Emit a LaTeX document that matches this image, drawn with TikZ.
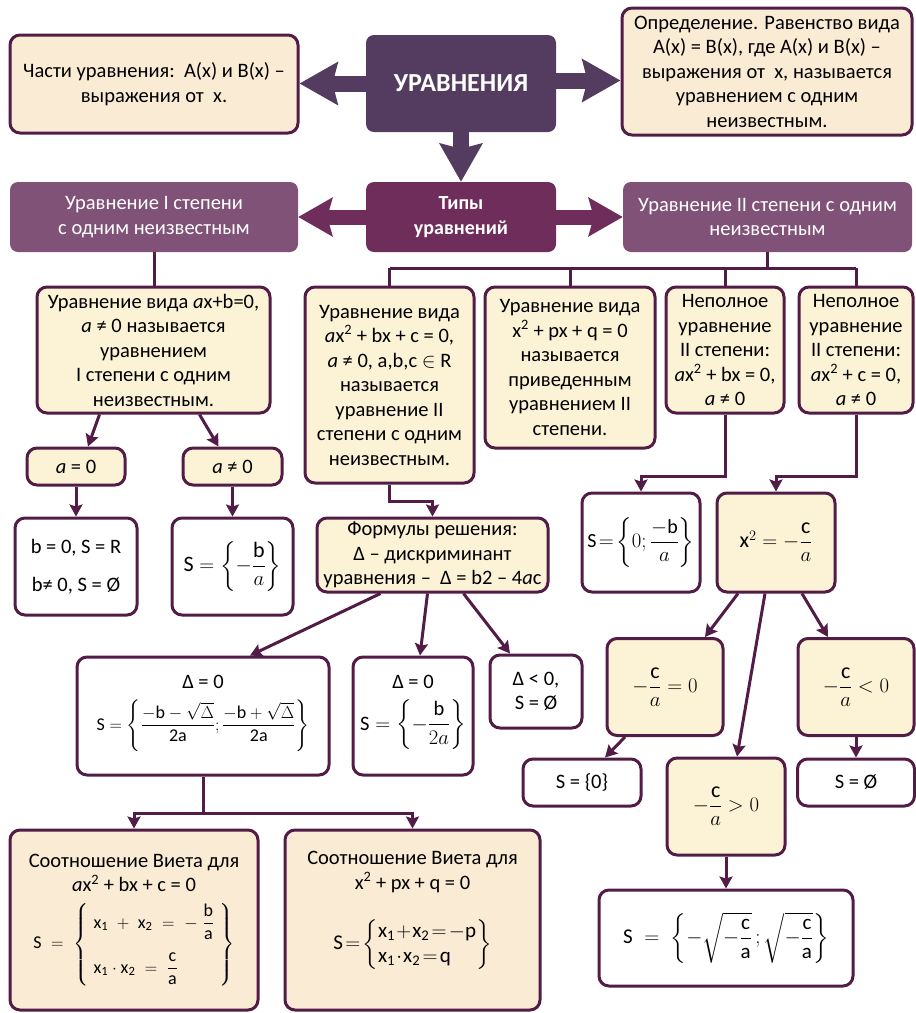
\documentclass[tikz,border=0pt]{standalone}
\usepackage{fontspec}
\usepackage{amsmath}
\setmainfont{Carlito}
\usetikzlibrary{arrows.meta,calc}
\definecolor{bd}{HTML}{521C46}
\definecolor{cream}{HTML}{FCF2D6}
\definecolor{peach}{HTML}{FAEBD5}
\definecolor{ucol}{HTML}{533C60}
\definecolor{tcol}{HTML}{6E2D5B}
\definecolor{scol}{HTML}{805277}
\newcommand\fs{\fontsize{20.5}{24.5}\selectfont}
\newcommand\fm{\fontsize{22}{26}\selectfont}
\newcommand\tx[1]{\text{#1}}
\tikzset{
  box/.style={draw=bd, line width=3pt, rounded corners=10pt, align=center, inner sep=1pt, font=\fs},
  cbox/.style={box, fill=cream},
  wbox/.style={box, fill=white},
  pbox/.style={box, fill=peach},
  mbox/.style={font=\fm},
  headbox/.style={rounded corners=8pt, align=center, text=white, inner sep=2pt},
  line/.style={draw=bd, line width=3pt},
  conn/.style={draw=bd, line width=3pt, -{Stealth[length=12pt,width=13pt,inset=2pt]}},
  big/.style={line width=16pt, -{Stealth[length=38pt,width=42pt,inset=5pt]}},
  bigs/.style={line width=15pt, -{Stealth[length=34pt,width=38pt,inset=5pt]}},
}
\begin{document}
\begin{tikzpicture}[x=1pt,y=-1pt]
\useasboundingbox (0,0) rectangle (916,1013);
% top row
\node[pbox, minimum width=288pt, minimum height=98pt] (A) at (154,84)
  {Части уравнения:\ \ A(x) и B(x) –\\выражения от\ \ x.};
\node[headbox, fill=ucol, minimum width=190pt, minimum height=97pt, font=\fontsize{26}{30}\selectfont\bfseries] (U) at (461,83.5) {УРАВНЕНИЯ};
\node[pbox, minimum width=290pt, minimum height=127pt] (D) at (767,71.5)
  {Определение. Равенство вида\\A(x) = B(x), где A(x) и B(x) –\\выражения от\ \ x, называется\\уравнением с одним\\неизвестным.};
\draw[big, ucol] (U.west) -- (A.east |- U.west);
\draw[big, ucol] ([yshift=3pt]U.east) -- ([yshift=3pt]U.east -| D.west);
% second row
\node[headbox, fill=scol, minimum width=288pt, minimum height=70pt, font=\fs] (T1) at (154,217) {Уравнение I степени\\с одним неизвестным};
\node[headbox, fill=tcol, minimum width=190pt, minimum height=70pt, font=\fontsize{20}{25}\selectfont\bfseries] (T) at (461,217) {Типы\\уравнений};
\node[headbox, fill=scol, minimum width=289pt, minimum height=70pt, font=\fs] (T2) at (767.5,217) {Уравнение II степени с одним\\неизвестным};
\draw[big, ucol] (U.south) -- (U.south |- T.north);
\draw[bigs, tcol] (T.west) -- (T1.east |- T.west);
\draw[bigs, tcol] (T.east) -- (T.east -| T2.west);
% first degree branch
\node[cbox, minimum width=233pt, minimum height=126pt] (E1) at (153.5,350)
  {Уравнение вида \textit{a}x+b=0,\\\textit{a} ≠ 0 называется\\уравнением\\I степени с одним\\неизвестным.};
\node[cbox, minimum width=98pt, minimum height=37pt] (Z1) at (76,466.5) {\textit{a} = 0};
\node[cbox, minimum width=99pt, minimum height=37pt] (Z2) at (232.5,466.5) {\textit{a} ≠ 0};
\node[wbox, minimum width=122pt, minimum height=97pt] (R1) at (76,566.5) {b = 0, S = R\\[14pt]b≠\ 0, S = Ø};
\node[wbox, mbox, minimum width=121pt, minimum height=97pt] (R2) at (232.5,566.5) {$\tx{S}=\left\{-\dfrac{\tx{b}}{a}\right\}$};
\draw[line] (T1.south) -- (T1.south |- E1.north);
\draw[conn] ([xshift=-54pt]E1.south) -- ([xshift=12pt]Z1.north);
\draw[conn] ([xshift=46pt]E1.south) -- ([xshift=-14pt]Z2.north);
\draw[conn] (Z1.south) -- (R1.north);
\draw[conn] (Z2.south) -- (R2.north);
% second degree branch
\node[cbox, minimum width=169pt, minimum height=196pt] (E2) at (389.5,385)
  {Уравнение вида\\\textit{a}x\textsuperscript{2} + bx + c = 0,\\\textit{a} ≠ 0, a,b,c $\in$ R\\называется\\уравнение II\\степени с одним\\неизвестным.};
\node[cbox, minimum width=170pt, minimum height=161pt] (E3) at (570,367.5)
  {Уравнение вида\\x\textsuperscript{2} + px + q = 0\\называется\\приведенным\\уравнением II\\степени.};
\node[cbox, minimum width=118pt, minimum height=126pt] (E4) at (725,350)
  {Неполное\\уравнение\\II степени:\\\textit{a}x\textsuperscript{2} + bx = 0,\\\textit{a} ≠ 0};
\node[cbox, minimum width=114pt, minimum height=126pt] (E5) at (856,350)
  {Неполное\\уравнение\\II степени:\\\textit{a}x\textsuperscript{2} + c = 0,\\\textit{a} ≠ 0};
\coordinate (hb) at (0,268);
\draw[line] (T2.south) -- (T2.south |- hb);
\draw[line] (E2.north |- hb) -- (E5.north |- hb);
\foreach \n in {E2,E3,E4,E5} \draw[line] (\n.north |- hb) -- (\n.north);
% formulas
\node[cbox, minimum width=231pt, minimum height=74pt] (F) at (432.5,555)
  {Формулы решения:\\Δ – дискриминант\\уравнения –\ \ Δ = b2 – 4\textit{a}c};
\draw[conn] (E2.south) -- ++(0,17) -| (F.north);
\node[wbox, font=\fontsize{20}{24}\selectfont, minimum width=118pt, minimum height=99pt] (S0) at (641,542.5) {$\tx{S}\!=\!\left\{0;\dfrac{-\tx{b}}{a}\right\}$};
\node[cbox, mbox, minimum width=118pt, minimum height=99pt] (X) at (776,542.5) {$\tx{x}^{2}=-\dfrac{\tx{c}}{a}$};
\draw[conn] (E4.south) -- ++(0,62) -| (S0.north);
\draw[conn] (E5.south) -- ++(0,62) -| (X.north);
% discriminant cases
\node[wbox, minimum width=252pt, minimum height=118pt] (D1) at (203,716)
  {Δ = 0\\[10pt]{\fontsize{18}{22}\selectfont$\tx{S}=\left\{\dfrac{-\tx{b}-\sqrt{\Delta}}{\tx{2a}};\dfrac{-\tx{b}+\sqrt{\Delta}}{\tx{2a}}\right\}$}\\[2pt]};
\node[wbox, minimum width=120pt, minimum height=118pt] (D2) at (413,716)
  {Δ = 0\\[10pt]$\tx{S}=\left\{-\dfrac{\tx{b}}{2a}\right\}$\\[2pt]};
\node[wbox, minimum width=92pt, minimum height=73pt] (D3) at (536,691.5) {Δ < 0,\\S = Ø};
\draw[conn] ([xshift=-52pt]F.south) -- ([xshift=47pt]D1.north);
\draw[conn] ([xshift=-5pt]F.south) -- ([xshift=7pt]D2.north);
\draw[conn] ([xshift=31pt]F.south) -- ([xshift=-26pt]D3.north);
% incomplete c cases
\node[cbox, mbox, minimum width=116pt, minimum height=97pt] (C0) at (665,687) {$-\dfrac{\tx{c}}{a}=0$};
\node[cbox, mbox, minimum width=116pt, minimum height=97pt] (CL) at (856,687) {$-\dfrac{\tx{c}}{a}<0$};
\node[wbox, minimum width=118pt, minimum height=47pt] (S00) at (582,782.5) {S = \{0\}};
\node[cbox, mbox, minimum width=118pt, minimum height=97pt] (CG) at (726,806.5) {$-\dfrac{\tx{c}}{a}>0$};
\node[wbox, minimum width=117pt, minimum height=47pt] (SE) at (856,782.5) {S = Ø};
\node[wbox, font=\fontsize{21}{25}\selectfont, minimum width=254pt, minimum height=96pt] (SF) at (726,938)
  {$\tx{S}\;=\;\left\{-\sqrt{-\dfrac{\tx{c}}{\tx{a}}}\,;\sqrt{-\dfrac{\tx{c}}{\tx{a}}}\right\}$};
\draw[conn] ([xshift=-38pt]X.south) -- ([xshift=40pt]C0.north);
\draw[conn] ([xshift=-11pt]X.south) -- ([xshift=11pt]CG.north);
\draw[conn] ([xshift=26pt]X.south) -- ([xshift=-28pt]CL.north);
\draw[conn] ([xshift=-40pt]C0.south) -- ([xshift=23pt]S00.north);
\draw[conn] (CL.south) -- (SE.north);
\draw[conn] (CG.south) -- (SF.north);
% Vieta
\node[pbox, minimum width=248pt, minimum height=180pt] (V1) at (134,920)
  {Соотношение Виета для\\\textit{a}x\textsuperscript{2} + bx + c = 0\\[10pt]
   {\fontsize{18}{22}\selectfont$\tx{S}\;=\;\left\{\begin{array}{l}\tx{x}_{\tx{1}}\;+\;\tx{x}_{\tx{2}}\;=\;-\;\dfrac{\tx{b}}{\tx{a}}\\[18pt]\tx{x}_{\tx{1}}\cdot\tx{x}_{\tx{2}}\;=\;\dfrac{\tx{c}}{\tx{a}}\end{array}\right\}$}};
\node[pbox, minimum width=255pt, minimum height=180pt] (V2) at (412.5,920)
  {Соотношение Виета для\\x\textsuperscript{2} + px + q = 0\\[26pt]
   {\fontsize{21}{25}\selectfont$\tx{S}\!=\!\left\{\begin{array}{@{}l@{}}\tx{x}_{\tx{1}}\!+\!\tx{x}_{\tx{2}}\!=\!-\tx{p}\\\tx{x}_{\tx{1}}\!\cdot\!\tx{x}_{\tx{2}}\!=\!\tx{q}\end{array}\right\}$}\\[14pt]};
\draw[conn] (D1.south) -- ++(0,37) -| (V1.north);
\draw[conn] (D1.south) -- ++(0,37) -| (V2.north);
\end{tikzpicture}
\end{document}
